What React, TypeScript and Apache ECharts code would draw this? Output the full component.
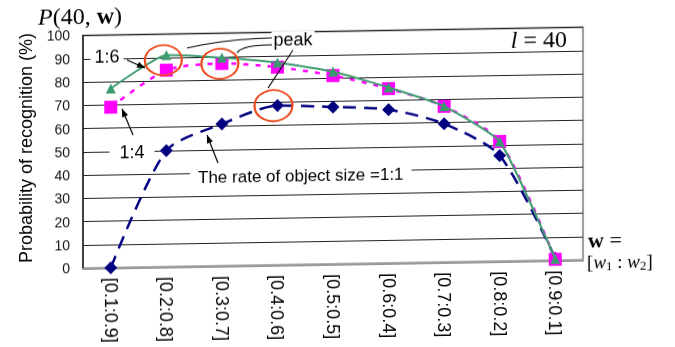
import React, { useEffect, useRef } from "react";
import * as echarts from "echarts";

const categories = ["[0.1:0.9]", "[0.2:0.8]", "[0.3:0.7]", "[0.4:0.6]", "[0.5:0.5]", "[0.6:0.4]", "[0.7:0.3]", "[0.8:0.2]", "[0.9:0.1]"];
const rate11 = [0, 50, 61, 68.5, 67.5, 66, 59.5, 45.5, 1];
const rate14 = [69, 84.5, 87, 85, 81, 75, 67, 51.5, 0.5];
const rate16 = [77, 91, 89.5, 87, 82.7, 75.5, 67, 51.5, 0.7];
const yMin = 0;
const yMax = 100;
const yStep = 10;

const RED = "#EE4A1C";
const SANS = "Liberation Sans, Arial, sans-serif";
const SERIF = "Liberation Serif, DejaVu Serif, serif";

function arrowHead(x1: number, y1: number, x2: number, y2: number, len = 8, half = 3.2) {
  const dx = x2 - x1, dy = y2 - y1;
  const d = Math.sqrt(dx * dx + dy * dy);
  const ux = dx / d, uy = dy / d;
  const bx = x2 - ux * len, by = y2 - uy * len;
  return {
    type: "polygon",
    z: 5,
    shape: { points: [[x2, y2], [bx - uy * half, by + ux * half], [bx + uy * half, by - ux * half]] },
    style: { fill: "#000" },
  };
}

function arrow(x1: number, y1: number, x2: number, y2: number) {
  return [
    { type: "line", z: 5, shape: { x1, y1, x2, y2 }, style: { stroke: "#000", lineWidth: 1.2 } },
    arrowHead(x1, y1, x2, y2),
  ];
}

function labelText(text: string, x: number, y: number, pad: number[], size = 18) {
  return {
    type: "text",
    z: 1,
    x,
    y,
    style: {
      text,
      fill: "#000",
      font: `${size}px ${SANS}`,
      align: "center",
      verticalAlign: "middle",
      backgroundColor: "#fff",
      padding: pad,
    },
  };
}

export default function App() {
  const ref = useRef<HTMLDivElement>(null);
  useEffect(() => {
    if (!ref.current) return;
    const chart = echarts.init(ref.current, undefined, { renderer: "svg" });
    chart.setOption({
      animation: false,
      backgroundColor: "#fff",
      grid: { left: 83, right: 92, top: 35.5, bottom: 78.7, show: true, borderColor: "#999", borderWidth: 2, backgroundColor: "transparent" },
      xAxis: {
        type: "category",
        data: categories,
        boundaryGap: true,
        axisLine: { lineStyle: { color: "#999", width: 2 } },
        axisTick: { show: false },
        axisLabel: { rotate: -90, fontSize: 18, fontFamily: SANS, color: "#000", margin: 10 },
      },
      yAxis: {
        type: "value",
        min: yMin,
        max: yMax,
        interval: yStep,
        axisLine: { show: true, lineStyle: { color: "#222", width: 1.5 } },
        axisTick: { show: false },
        axisLabel: { fontSize: 14, fontFamily: SANS, color: "#111", margin: 13 },
        splitLine: { lineStyle: { color: "#222", width: 1 } },
      },
      series: [
        {
          name: "1:1",
          type: "line",
          data: rate11,
          smooth: 0.25,
          symbol: "diamond",
          symbolSize: 13,
          z: 3,
          lineStyle: { color: "#000080", width: 2.5, type: [13, 8] },
          itemStyle: { color: "#000080" },
          markPoint: {
            symbol: "circle",
            symbolSize: [38, 31],
            label: { show: false },
            itemStyle: { color: "rgba(0,0,0,0)", borderColor: RED, borderWidth: 2 },
            data: [{ coord: [3, rate11[3]], symbolOffset: [-4, 0] }],
          },
        },
        {
          name: "1:4",
          type: "line",
          data: rate14,
          smooth: 0.25,
          symbol: "rect",
          symbolSize: 13,
          z: 3,
          lineStyle: { color: "#FF00FF", width: 2.5, type: [5, 7] },
          itemStyle: { color: "#FF00FF" },
        },
        {
          name: "1:6",
          type: "line",
          data: rate16,
          smooth: 0.15,
          symbol: "triangle",
          symbolSize: 10,
          z: 4,
          lineStyle: { color: "#3C9B6E", width: 2 },
          itemStyle: { color: "#3C9B6E" },
          markPoint: {
            symbol: "circle",
            symbolSize: [37, 30],
            label: { show: false },
            itemStyle: { color: "rgba(0,0,0,0)", borderColor: RED, borderWidth: 2 },
            data: [
              { coord: [1, rate16[1]], symbolOffset: [-3, 5] },
              { coord: [2, rate16[2]], symbolOffset: [-2, 6] },
            ],
          },
        },
      ],
      graphic: [
        {
          type: "text",
          x: 26,
          y: 147,
          rotation: Math.PI / 2,
          style: { text: "Probability of recognition (%)", font: `18px ${SANS}`, fill: "#000", align: "center", verticalAlign: "middle" },
        },
        {
          type: "text",
          x: 38,
          y: 16,
          style: {
            text: "{i|P}(40, {b|w})",
            fill: "#000",
            align: "left",
            verticalAlign: "middle",
            font: `24px ${SERIF}`,
            lineHeight: 16,
            rich: {
              i: { fontFamily: SERIF, fontSize: 24, fontStyle: "italic", lineHeight: 16 },
              b: { fontFamily: SERIF, fontSize: 24, fontWeight: "bold", lineHeight: 16 },
            },
          },
        },
        {
          type: "text",
          x: 567,
          y: 47.5,
          style: {
            text: "{i|l} = 40",
            fill: "#000",
            align: "right",
            verticalAlign: "middle",
            font: `24px ${SERIF}`,
            rich: { i: { fontFamily: SERIF, fontSize: 24, fontStyle: "italic" } },
          },
        },
        {
          type: "text",
          x: 588,
          y: 249,
          style: {
            text: "{b|w} =",
            fill: "#000",
            align: "left",
            verticalAlign: "middle",
            font: `22px ${SERIF}`,
            rich: { b: { fontFamily: SERIF, fontSize: 22, fontWeight: "bold" } },
          },
        },
        {
          type: "text",
          x: 587,
          y: 271,
          style: {
            text: "[{i|w}{s|1} : {i|w}{s|2}]",
            fill: "#000",
            align: "left",
            verticalAlign: "middle",
            font: `19px ${SERIF}`,
            rich: {
              i: { fontFamily: SERIF, fontSize: 19, fontStyle: "italic" },
              s: { fontFamily: SERIF, fontSize: 13, verticalAlign: "bottom", padding: [6, 0, 0, 0] },
            },
          },
        },
        labelText("peak", 293, 43.5, [0, 2, 0, 2]),
        labelText("1:6", 107, 57.4, [2, 4, 2, 4]),
        labelText("1:4", 132, 152.8, [2, 10, 2, 10]),
        {
          type: "text",
          z: 1,
          x: 190,
          y: 180,
          style: {
            text: "The rate of object size =1:1",
            fill: "#000",
            font: `17px ${SANS}`,
            align: "left",
            verticalAlign: "middle",
            backgroundColor: "#fff",
            padding: [2, 8, 2, 8],
          },
        },
        { type: "bezierCurve", z: 5, shape: { x1: 272, y1: 41.1, cpx1: 225, cpy1: 41.5, x2: 187, y2: 49.7 }, style: { stroke: "#000", lineWidth: 1, fill: "none" } },
        { type: "bezierCurve", z: 5, shape: { x1: 272, y1: 48.1, cpx1: 242, cpy1: 47.5, x2: 237, y2: 55.6 }, style: { stroke: "#000", lineWidth: 1, fill: "none" } },
        { type: "bezierCurve", z: 5, shape: { x1: 293, y1: 53.5, cpx1: 282, cpy1: 70, x2: 268, y2: 91.1 }, style: { stroke: "#000", lineWidth: 1, fill: "none" } },
        ...arrow(127, 60.7, 145, 69),
        ...arrow(133, 135.8, 122, 109.6),
        ...arrow(218, 165.2, 207, 137.1),
      ],
    });
    return () => chart.dispose();
  }, []);
  return (
    <div
      ref={ref}
      style={{
        position: "fixed",
        left: 0,
        top: 0,
        width: 675,
        height: 347,
        transform: "skewY(-0.95deg)",
        transformOrigin: "83px 0px",
      }}
    />
  );
}
